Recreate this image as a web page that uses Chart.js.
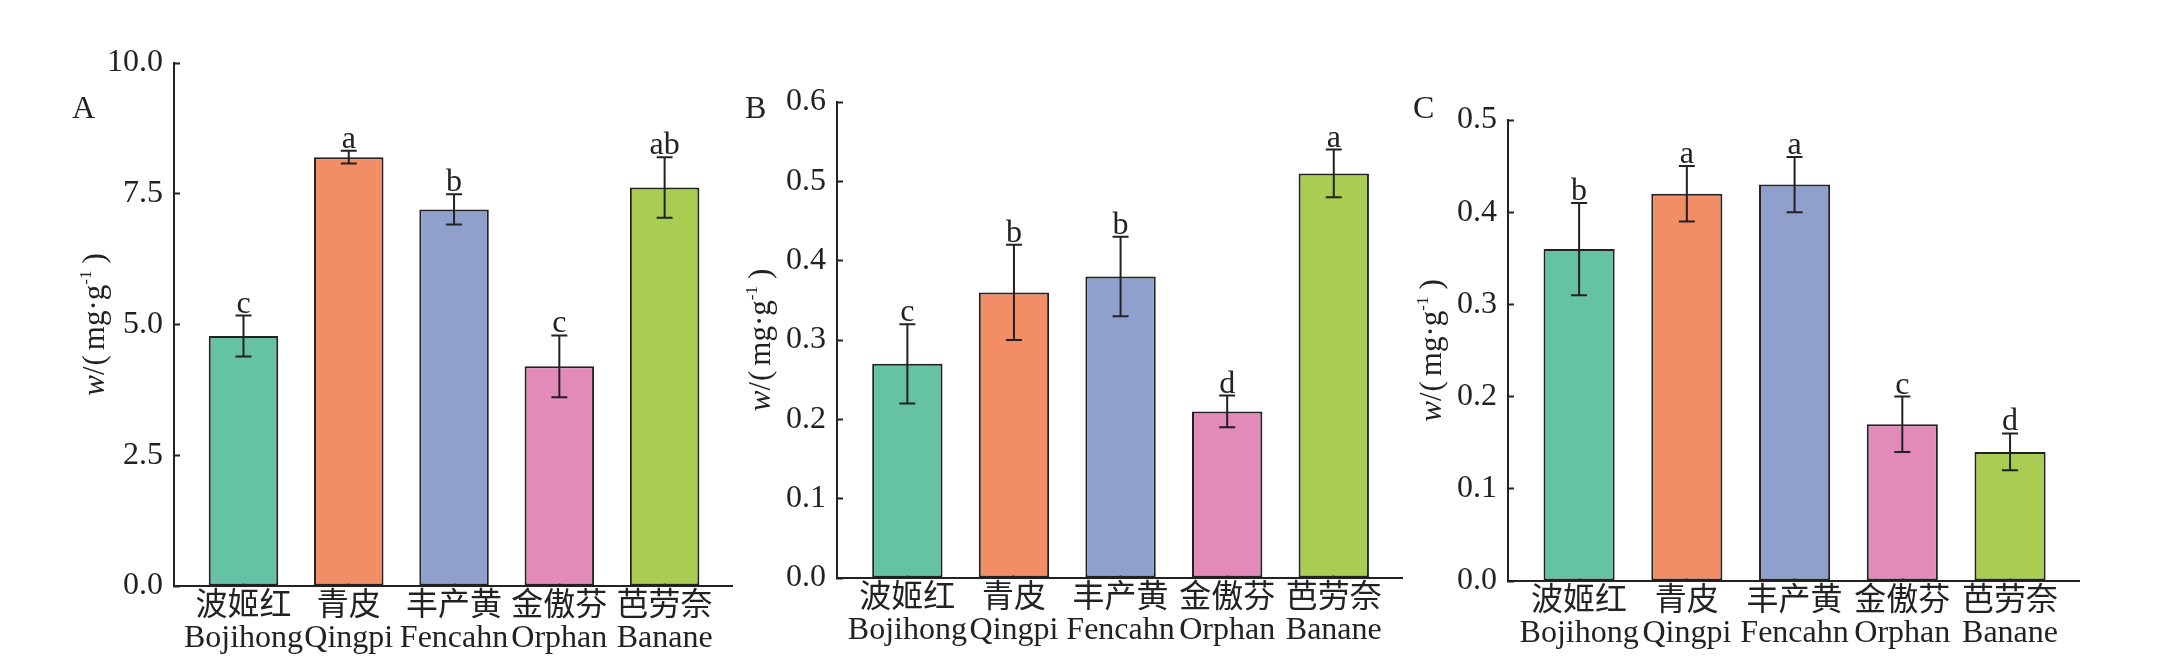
<!DOCTYPE html>
<html>
<head>
<meta charset="utf-8">
<script src="https://cdn.jsdelivr.net/npm/chart.js@4.4.1/dist/chart.umd.min.js"></script>
<style>
  body { margin: 0; background: #fff; width: 2176px; height: 670px; position: relative; overflow: hidden; }
  canvas { position: absolute; top: 0; }
</style>
</head>
<body>
<canvas id="chartA" style="left:0px" width="740" height="670"></canvas>
<canvas id="chartB" style="left:740px" width="670" height="670"></canvas>
<canvas id="chartC" style="left:1405px" width="771" height="670"></canvas>
<script>
// categories
const categoriesCn = ['波姬红', '青皮', '丰产黄', '金傲芬', '芭劳奈'];
const categoriesEn = ['Bojihong', 'Qingpi', 'Fencahn', 'Orphan', 'Banane'];

// panel A
const valuesA = [4.78, 8.20, 7.20, 4.20, 7.62];
const errorsA = [0.39, 0.12, 0.29, 0.59, 0.58];
const lettersA = ['c', 'a', 'b', 'c', 'ab'];
const ticksA = [0, 2.5, 5, 7.5, 10];

// panel B
const valuesB = [0.27, 0.36, 0.38, 0.21, 0.51];
const errorsB = [0.05, 0.06, 0.05, 0.02, 0.03];
const lettersB = ['c', 'b', 'b', 'd', 'a'];
const ticksB = [0, 0.1, 0.2, 0.3, 0.4, 0.5, 0.6];

// panel C
const valuesC = [0.36, 0.42, 0.43, 0.17, 0.14];
const errorsC = [0.05, 0.03, 0.03, 0.03, 0.02];
const lettersC = ['b', 'a', 'a', 'c', 'd'];
const ticksC = [0, 0.1, 0.2, 0.3, 0.4, 0.5];

const barColors = ['#66C2A5', '#F28E65', '#8EA0CB', '#E38BB8', '#A8CD52'];
const ink = '#222222';
const serif = "'Liberation Serif', 'Noto Sans CJK SC'";

// y title: w/(mg·g^-1), drawn piece by piece so w is italic and -1 is raised
function drawYTitle(ctx, cx, cy) {
    const parts = [
        { t: 'w', f: "italic 31px 'Liberation Serif'", dy: 0, gap: 0 },
        { t: '/', f: "31px 'Liberation Serif'", dy: 0, gap: 1 },
        { t: '(', f: "31px 'Liberation Serif'", dy: 0, gap: 5 },
        { t: 'mg·g', f: "31px 'Liberation Serif'", dy: 0, gap: 0 },
        { t: '-1', f: "17px 'Liberation Serif'", dy: -13, gap: 7 },
        { t: ')', f: "31px 'Liberation Serif'", dy: 0, gap: 0 }
    ];
    ctx.save();
    ctx.translate(cx, cy);
    ctx.rotate(-Math.PI / 2);
    ctx.fillStyle = ink;
    ctx.textBaseline = 'alphabetic';
    ctx.textAlign = 'left';
    let total = 0;
    parts.forEach(p => { ctx.font = p.f; p.w = ctx.measureText(p.t).width; total += p.w + p.gap; });
    let x = -total / 2;
    parts.forEach(p => {
        ctx.font = p.f;
        ctx.fillText(p.t, x, 10 + p.dy);
        x += p.w + p.gap;
    });
    ctx.restore();
}

function makeChart(id, values, errors, letters, yTicks, panel, box) {
    const ctx = document.getElementById(id).getContext('2d');

    const annotate = {
        id: 'annotate' + panel,
        afterDatasetsDraw(chart) {
            const c = chart.ctx;
            const xs = chart.scales.x;
            const ys = chart.scales.y;
            c.save();
            c.strokeStyle = ink;
            c.lineWidth = 2;
            c.fillStyle = ink;
            c.font = "32px 'Liberation Serif'";
            c.textAlign = 'center';
            c.textBaseline = 'alphabetic';
            values.forEach((v, i) => {
                const x = xs.getPixelForValue(i);
                const yHi = ys.getPixelForValue(v + errors[i]);
                const yLo = ys.getPixelForValue(v - errors[i]);
                c.beginPath();
                c.moveTo(x, yHi); c.lineTo(x, yLo);
                c.moveTo(x - 8, yHi); c.lineTo(x + 8, yHi);
                c.moveTo(x - 8, yLo); c.lineTo(x + 8, yLo);
                c.stroke();
                c.fillText(letters[i], x, yHi - 3);
            });
            c.restore();
        },
        afterDraw(chart) {
            const c = chart.ctx;
            const area = chart.chartArea;
            drawYTitle(c, area.left + box.titleDx, (area.top + area.bottom) / 2);
            c.save();
            c.fillStyle = ink;
            c.font = "32px 'Liberation Serif'";
            c.textAlign = 'left';
            c.textBaseline = 'alphabetic';
            c.fillText(panel, area.left + box.labelDx, 118);
            c.restore();
        }
    };

    return new Chart(ctx, {
        type: 'bar',
        data: {
            datasets: [{
                data: values.map((v, i) => ({ x: i, y: v })),
                backgroundColor: barColors,
                borderColor: ink,
                borderWidth: 2,
                borderSkipped: false,
                barPercentage: 0.66,
                categoryPercentage: 1
            }]
        },
        options: {
            responsive: false,
            animation: false,
            layout: { padding: { left: 0, top: box.top, right: box.right, bottom: 0 } },
            plugins: { legend: { display: false }, tooltip: { enabled: false } },
            scales: {
                x: {
                    type: 'linear',
                    offset: false,
                    min: -0.66,
                    max: 4.64,
                    afterBuildTicks: s => { s.ticks = categoriesCn.map((c, i) => ({ value: i })); },
                    afterFit: s => { s.height = box.xHeight; },
                    border: { display: true, color: ink, width: 2 },
                    grid: { offset: false, drawOnChartArea: false, drawTicks: true, tickLength: -6, tickColor: ink, tickWidth: 2 },
                    ticks: {
                        autoSkip: false,
                        maxRotation: 0,
                        padding: 11,
                        color: ink,
                        font: { family: serif, size: 32, lineHeight: 1.0 },
                        callback: v => [categoriesCn[v], categoriesEn[v]]
                    }
                },
                y: {
                    min: 0,
                    max: yTicks[yTicks.length - 1],
                    afterBuildTicks: s => { s.ticks = yTicks.map(v => ({ value: v })); },
                    afterFit: s => { s.width = box.yWidth; },
                    border: { display: true, color: ink, width: 2 },
                    grid: { drawOnChartArea: false, drawTicks: true, tickLength: -6, tickColor: ink, tickWidth: 2 },
                    ticks: {
                        padding: 17,
                        color: ink,
                        font: { family: serif, size: 32 },
                        callback: v => v.toFixed(1)
                    }
                }
            }
        },
        plugins: [annotate]
    });
}

makeChart('chartA', valuesA, errorsA, lettersA, ticksA, 'A',
    { yWidth: 174, xHeight: 84, top: 63, right: 8, titleDx: -80, labelDx: -102 });
makeChart('chartB', valuesB, errorsB, lettersB, ticksB, 'B',
    { yWidth: 97, xHeight: 92, top: 102, right: 8, titleDx: -77, labelDx: -92 });
makeChart('chartC', valuesC, errorsC, lettersC, ticksC, 'C',
    { yWidth: 103, xHeight: 89, top: 120, right: 97, titleDx: -77, labelDx: -95 });
</script>
</body>
</html>
